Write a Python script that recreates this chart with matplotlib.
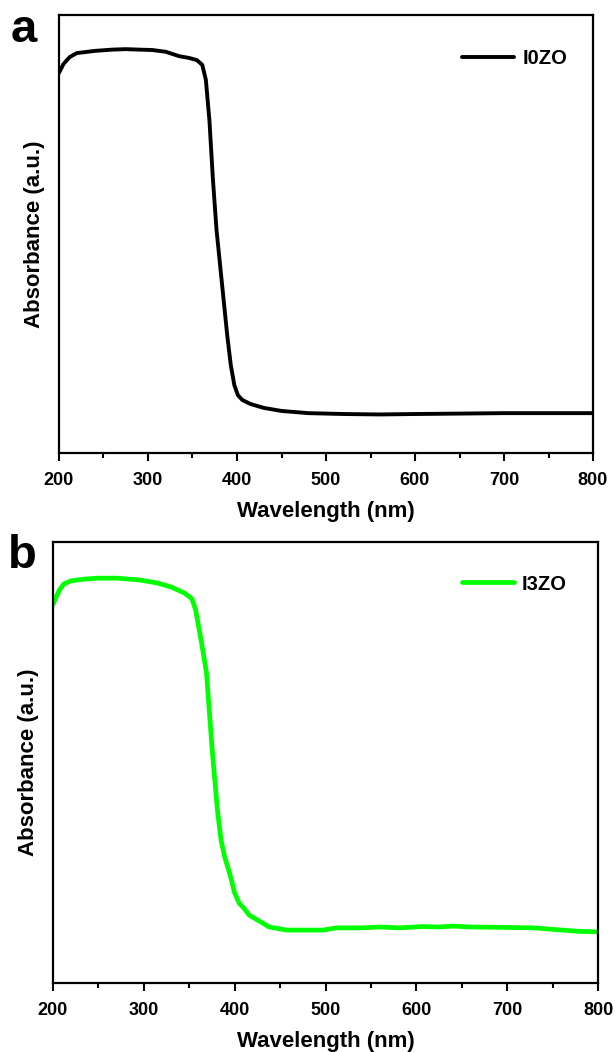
import matplotlib
matplotlib.use("Agg")
import matplotlib.pyplot as plt
import numpy as np

plt.rcParams['font.family'] = ['Liberation Sans', 'DejaVu Sans']
plt.rcParams['font.weight'] = 'bold'

# Panel a: I0ZO
wl_a = [200, 205, 212, 220, 240, 260, 275, 290, 305, 320, 335, 346, 355, 361, 365,
        369, 373, 377, 381, 385, 389, 393, 397, 401, 406, 415, 430, 450, 480, 520,
        560, 600, 650, 700, 800]
abs_a = [0.868, 0.888, 0.904, 0.913, 0.918, 0.921, 0.922, 0.921, 0.920, 0.916, 0.906,
         0.902, 0.897, 0.886, 0.852, 0.760, 0.623, 0.509, 0.429, 0.349, 0.269, 0.201,
         0.155, 0.132, 0.121, 0.112, 0.103, 0.096, 0.091, 0.089, 0.088, 0.089, 0.090,
         0.091, 0.091]

# Panel b: I3ZO
wl_b = [200, 203, 207, 212, 220, 235, 250, 270, 295, 315, 330, 345, 353, 357, 363,
        369, 375, 381, 385, 389, 395, 400, 405, 410, 416, 425, 438, 457, 480, 497,
        512, 540, 560, 581, 607, 625, 640, 660, 700, 730, 760, 780, 800]
abs_b = [0.859, 0.873, 0.891, 0.905, 0.912, 0.916, 0.918, 0.918, 0.914, 0.907, 0.898,
         0.884, 0.871, 0.846, 0.778, 0.703, 0.535, 0.392, 0.324, 0.286, 0.245, 0.204,
         0.181, 0.170, 0.154, 0.143, 0.127, 0.120, 0.120, 0.120, 0.125, 0.125, 0.127,
         0.125, 0.128, 0.127, 0.129, 0.127, 0.126, 0.125, 0.120, 0.117, 0.116]

labels = ['I0ZO', 'I3ZO']
colors = ['black', '#00ff00']
panel_letters = ['a', 'b']
xticks = [200, 300, 400, 500, 600, 700, 800]

W, H = 615, 1052
fig = plt.figure(figsize=(W / 100, H / 100), dpi=100)

def px_axes(left, top, right, bottom):
    return [left / W, 1 - bottom / H, (right - left) / W, (bottom - top) / H]

axes_boxes = [px_axes(59, 15, 593, 453), px_axes(53, 542, 598, 983)]
data = [(wl_a, abs_a), (wl_b, abs_b)]
lws = [2.8, 3.4]
leg_anchor = [((567 - 59) / 534, (453 - 59) / 438), ((567 - 53) / 545, (983 - 584) / 441)]
letter_pos = [(24, 30), (22, 556)]
ylabel_x = [35, 29]

for i in range(2):
    ax = fig.add_axes(axes_boxes[i])
    x, y = data[i]
    ax.plot(x, y, color=colors[i], lw=lws[i], label=labels[i], solid_capstyle='round')
    ax.set_xlim(200, 800)
    ax.set_ylim(0, 1)
    ax.set_xticks(xticks)
    ax.set_xticks([250, 350, 450, 550, 650, 750], minor=True)
    ax.set_yticks([])
    ax.tick_params(axis='x', which='major', direction='out', length=6, width=1.5,
                   labelsize=13, pad=8)
    ax.tick_params(axis='x', which='minor', direction='out', length=3.5, width=1.5)
    for lab in ax.get_xticklabels():
        lab.set_fontweight('bold')
    for s in ax.spines.values():
        s.set_linewidth(1.6)
    ax.set_xlabel('Wavelength (nm)', fontsize=16, fontweight='bold', labelpad=8)
    ax.set_ylabel('Absorbance (a.u.)', fontsize=16, fontweight='bold')
    ax.yaxis.label.set_va('center')
    ax.yaxis.set_label_coords(-(axes_boxes[i][0] * W - ylabel_x[i]) / (axes_boxes[i][2] * W), 0.5)
    ax.legend(loc='center right', bbox_to_anchor=leg_anchor[i], frameon=False,
              handlelength=2.6, handletextpad=0.4, borderpad=0, borderaxespad=0,
              prop={'weight': 'bold', 'size': 14.5})
    fig.text(letter_pos[i][0] / W, 1 - letter_pos[i][1] / H, panel_letters[i],
             fontsize=34, fontweight='bold', ha='center', va='center')

fig.savefig('out.png', dpi=100)
